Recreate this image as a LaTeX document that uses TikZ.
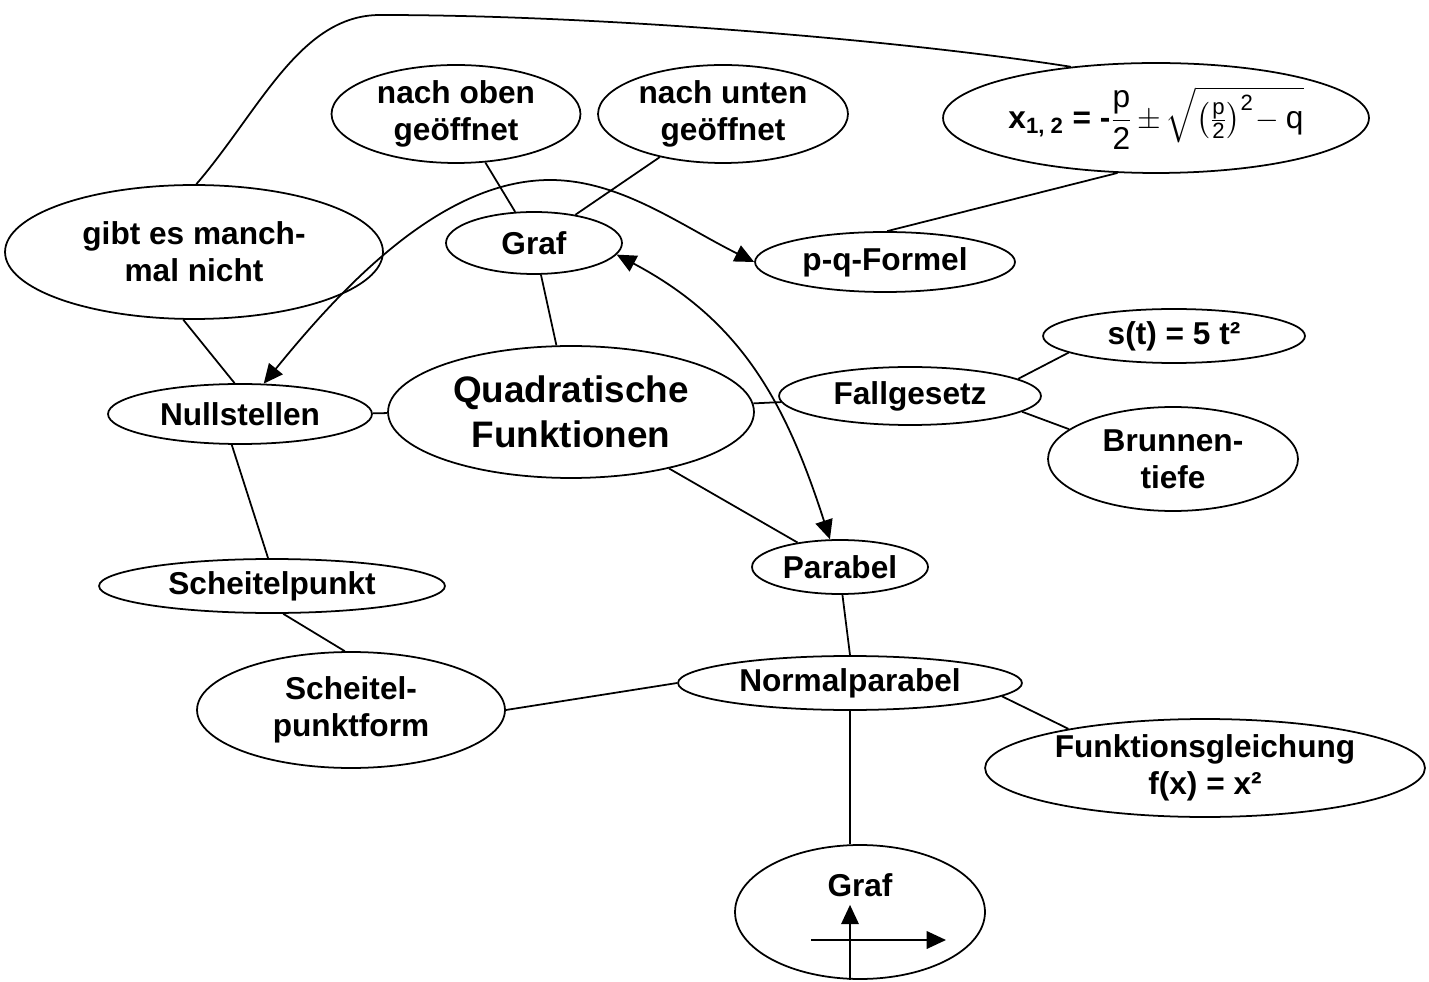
\documentclass[tikz,border=0pt]{standalone}
\usepackage{amsmath}
\usepackage{fontspec}
\setmainfont{Liberation Sans}
\usetikzlibrary{shapes}
\usetikzlibrary{arrows.meta}
\usetikzlibrary{calc}
\tikzstyle{ConceptNode}=[ellipse, draw=black, line width=1pt, inner sep=0pt, align=center, font=\fontsize{18}{21}\selectfont\bfseries]
\tikzstyle{MainNode}=[ConceptNode, font=\fontsize{21}{25.5}\selectfont\bfseries]
\tikzstyle{LinkEdge}=[line width=1pt]
\tikzstyle{ArrowEdge}=[LinkEdge, -{Triangle[length=11pt,width=10pt]}]
\tikzstyle{BothEdge}=[LinkEdge, {Triangle[length=11pt,width=10pt]}-{Triangle[length=11pt,width=10pt]}]
\tikzset{Size/.style 2 args={minimum width=#1*0.2mm, minimum height=#2*0.2mm}}
\begin{document}
\begin{tikzpicture}[x=0.02cm, y=-0.02cm]
\useasboundingbox (0,0) rectangle (1429,982);

\node[MainNode, Size={366}{132}](QF) at (571,412) {Quadratische\\Funktionen};
\node[ConceptNode, Size={378}{134}](Manchmal) at (194,252) {gibt es manch-\\mal nicht};
\node[ConceptNode, Size={249}{98}](Oben) at (456,114) {nach oben\\geöffnet};
\node[ConceptNode, Size={250}{98}](Unten) at (723,114) {nach unten\\geöffnet};
\node[ConceptNode, Size={426}{110}](Formel) at (1156,118)
  {x\textsubscript{1, 2} = -$\dfrac{\textmd{p}}{\textmd{2}}\,{\pm}\,\sqrt{\left(\tfrac{\textmd{p}}{\textmd{2}}\right)^{\textmd{2}}\!-\textmd{q}}$};
\node[ConceptNode, Size={176}{62}](GrafA) at (534,243) {Graf};
\node[ConceptNode, Size={260}{60}](PQ) at (885,262) {p-q-Formel};
\node[ConceptNode, Size={262}{54}](Fallwert) at (1174,336) {s(t) = 5 t²};
\node[ConceptNode, Size={262}{58}](Fall) at (910,396) {Fallgesetz};
\node[ConceptNode, Size={250}{104}](Brunnen) at (1173,459) {Brunnen-\\tiefe};
\node[ConceptNode, Size={264}{60}](Nullst) at (240,414) {Nullstellen};
\node[ConceptNode, Size={176}{54}](Parabel) at (840,567) {Parabel};
\node[ConceptNode, Size={346}{54}](Scheitel) at (272,586) {Scheitelpunkt};
\node[ConceptNode, Size={308}{116}](SForm) at (351,710) {Scheitel-\\punktform};
\node[ConceptNode, Size={344}{54}](NParabel) at (850,683) {Normalparabel};
\node[ConceptNode, Size={440}{98}](FGl) at (1205,768) {Funktionsgleichung\\f(x) = x²};
\node[ConceptNode, Size={250}{134}](GrafB) at (860,912) {\raisebox{10.8mm}{Graf}};

\draw[LinkEdge](Manchmal.-99) -- (Nullst.100);
\draw[LinkEdge](GrafA) -- (Oben);
\draw[LinkEdge](GrafA) -- (Unten);
\draw[LinkEdge](GrafA) -- (QF);
\draw[LinkEdge](Formel.235) -- (PQ.86);
\draw[LinkEdge](QF) -- (Nullst);
\draw[LinkEdge](QF) -- (Fall);
\draw[LinkEdge](QF) -- (Parabel);
\draw[LinkEdge](Fall.9) -- (Fallwert.189);
\draw[LinkEdge](Fall.-8) -- (Brunnen.164);
\draw[LinkEdge](Nullst.-105) -- (Scheitel.98);
\draw[LinkEdge](Scheitel.-68) -- (SForm.96);
\draw[LinkEdge](Parabel.-85) -- (NParabel.north);
\draw[LinkEdge](SForm.east) -- (NParabel.west);
\draw[LinkEdge](NParabel.-5) -- (FGl.164);
\draw[LinkEdge](NParabel.south) -- (NParabel.south |- GrafB.north);

% gebogene Verbindungen
\draw[LinkEdge](Manchmal.88) .. controls (260,110) and (300,15) .. (380,15)
  .. controls (600,15) and (900,40) .. (Formel.149);
\draw[BothEdge](Nullst.52) .. controls (340,290) and (440,180) .. (550,180)
  .. controls (620,180) and (680,225) .. (PQ.west);
\draw[BothEdge](GrafA.-8) .. controls (740,320) and (785,400) .. (Parabel.110);

% Achsen im Graf
\draw[ArrowEdge]($(GrafB.south)+(-10,0)$) -- ++(0,-75);
\draw[ArrowEdge]($(GrafB.center)+(-49,28)$) -- ++(135,0);
\end{tikzpicture}
\end{document}
